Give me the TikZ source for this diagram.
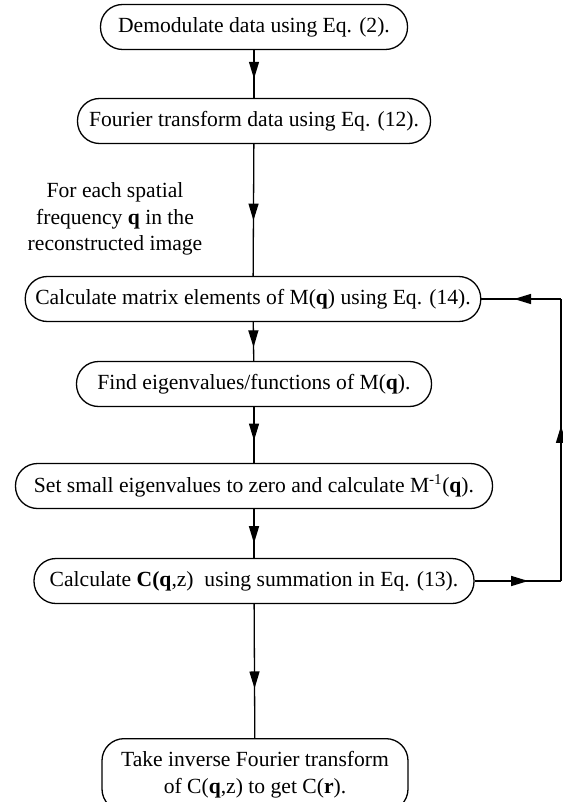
\documentclass[tikz,border=0pt]{standalone}
\usepackage{fontspec}
\setmainfont{Liberation Serif}
\usetikzlibrary{arrows.meta,decorations.markings}

\newcommand{\flowfont}{\fontsize{21.6pt}{26.5pt}\selectfont}

\tikzset{
  stepbox/.style={draw, line width=1.3pt, rectangle, rounded corners=22pt,
    minimum height=45pt, inner xsep=10pt, inner ysep=6pt, align=center},
  midarrow/.style={postaction={decorate}, decoration={markings,
    mark=at position #1 with {\arrow{Triangle[length=17pt,width=10pt]}}}},
  midarrow/.default=0.6,
  conn/.style={line width=1.3pt}
}

\begin{document}
\begin{tikzpicture}[x=1pt, y=-1pt, font=\flowfont]
    \useasboundingbox (0,0) rectangle (562,802);

    % steps
    \node[stepbox, minimum width=307pt] (demod) at (254,27) {Demodulate data using Eq. (2).};
    \node[stepbox, minimum width=353pt] (ft) at (254,121) {Fourier transform data using Eq. (12).};
    \node[align=center] (each) at (115,219) {For each spatial\\ frequency \textbf{q} in the\\ reconstructed image};
    \node[stepbox, minimum width=453pt] (mat) at (253,299) {Calculate matrix elements of M(\textbf{q}) using Eq. (14).};
    \node[stepbox, minimum width=355pt] (eig) at (254,384) {Find eigenvalues/functions of M(\textbf{q}).};
    \node[stepbox, minimum width=477pt] (inv) at (254,486) {Set small eigenvalues to zero and calculate M\textsuperscript{-1}(\textbf{q}).};
    \node[stepbox, minimum width=440pt] (sum) at (254,581) {Calculate \textbf{C(q},z)\ \ using summation in Eq. (13).};
    \node[stepbox, minimum width=306pt, anchor=north, inner ysep=13pt] (back) at (255,738) {Take inverse Fourier transform\\ of C(\textbf{q},z) to get C(\textbf{r}).};

    % chain
    \draw[conn, midarrow] (demod) -- (ft);
    \draw[conn, midarrow=0.58] (ft) -- (mat);
    \draw[conn, midarrow=0.65] (mat) -- (eig);
    \draw[conn, midarrow] (eig) -- (inv);
    \draw[conn, midarrow=0.7] (inv) -- (sum);
    \draw[conn, midarrow=0.63] (sum) -- (back);

    % loop back
    \path (561,581) coordinate (loopB);
    \path (561,299) coordinate (loopT);
    \draw[conn, midarrow=0.62] (sum.east) -- (loopB);
    \draw[conn, midarrow=0.55] (loopB) -- (loopT);
    \draw[conn, midarrow=0.59] (loopT) -- (mat.east);
  \end{tikzpicture}
\end{document}
